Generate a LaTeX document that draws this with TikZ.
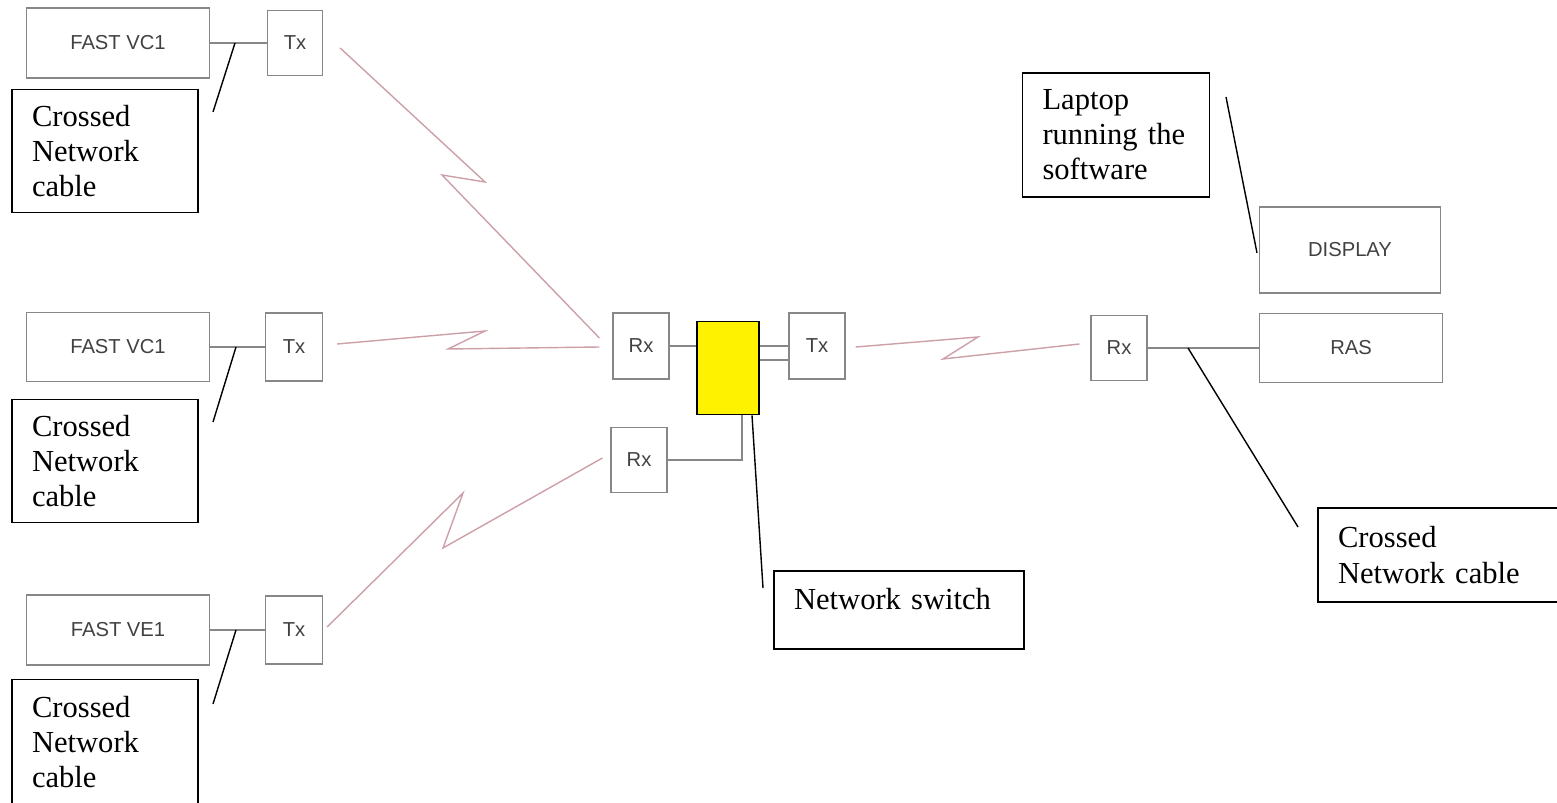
\documentclass[tikz,border=0pt]{standalone}
\usepackage{fontspec}
\setmainfont{Liberation Serif}
\newfontfamily\devfont{Liberation Sans}
\usetikzlibrary{calc}
\definecolor{boxgrey}{RGB}{135,135,135}
\definecolor{labgrey}{RGB}{65,65,65}
\definecolor{radiored}{RGB}{205,160,168}
\tikzset{
  dev/.style={draw=boxgrey,line width=0.7pt,text=labgrey,font=\devfont\fontsize{11.5}{13}\selectfont,inner sep=0pt},
  callout/.style={draw=black,line width=0.8pt,align=left,inner xsep=0.4cm,inner ysep=0pt,font=\fontsize{17.4}{20}\selectfont},
  cable/.style={draw=boxgrey,line width=0.7pt},
  radio/.style={draw=radiored,line width=0.8pt,line join=miter},
  leader/.style={draw=black,line width=0.8pt}
}
\begin{document}
\begin{tikzpicture}[x=0.02cm,y=-0.02cm]
\useasboundingbox (0,0) rectangle (1557,803);

\node[dev,minimum width=3.66cm,minimum height=1.4cm] (fvc1) at (118,43) {FAST VC1};
\node[dev,minimum width=1.1cm,minimum height=1.3cm] (tx1) at (295,43) {Tx};
\node[dev,minimum width=3.66cm,minimum height=1.38cm] (fvc2) at (118,347) {FAST VC1};
\node[dev,minimum width=1.14cm,minimum height=1.36cm] (tx2) at (294,347) {Tx};
\node[dev,minimum width=3.66cm,minimum height=1.4cm] (fve1) at (118,630) {FAST VE1};
\node[dev,minimum width=1.14cm,minimum height=1.36cm] (tx3) at (294,630) {Tx};

\node[dev,minimum width=1.12cm,minimum height=1.32cm] (rx1) at (641,346) {Rx};
\node[dev,minimum width=1.12cm,minimum height=1.3cm] (rx2) at (639,460) {Rx};
\node[draw=black,line width=1pt,fill=yellow,minimum width=1.24cm,minimum height=1.86cm,inner sep=0pt] (sw) at (728,368) {};
\node[dev,minimum width=1.12cm,minimum height=1.32cm] (txo) at (817,346) {Tx};
\node[dev,minimum width=1.12cm,minimum height=1.3cm] (rx3) at (1119,348) {Rx};
\node[dev,minimum width=3.62cm,minimum height=1.72cm] (disp) at (1350,250) {DISPLAY};
\node[dev,minimum width=3.66cm,minimum height=1.38cm] (ras) at (1351,348) {RAS};

\node[callout,text width=2.92cm,minimum height=2.46cm] (cab1) at (105,151) {Crossed\\Network\\cable};
\node[callout,text width=2.92cm,minimum height=2.46cm] (cab2) at (105,461) {Crossed\\Network\\cable};
\node[callout,text width=2.92cm,minimum height=2.5cm] (cab3) at (105,742) {Crossed\\Network\\cable};
\node[callout,text width=2.94cm,minimum height=2.48cm] (lap) at (1116,135) {Laptop\\running the\\software};
\node[callout,text width=4.2cm,minimum height=1.56cm,text depth=0.45cm] (swlab) at (899,610) {Network switch};
\node[callout,text width=4.4cm,minimum height=1.88cm] (cab4) at (1448,555) {Crossed\\Network cable};

\draw[cable] (fvc1) -- (tx1);
\draw[cable] (fvc2) -- (tx2);
\draw[cable] (fve1) -- (tx3);
\draw[cable] (rx1) -- (sw.west |- rx1.east);
\draw[cable] (sw.east |- txo.west) -- (txo.west);
\draw[cable] ($(sw.east |- txo.west)+(0,14)$) -- ($(txo.west)+(0,14)$);
\draw[cable] (rx2.east) -| ([xshift=0.28cm]sw.south);
\draw[cable] (rx3) -- (ras);

\draw[radio] ($(tx1.east)+(17,5)$) -- (485,182) -- (442,175) -- ($(rx1.west)+(-13,-8)$);
\draw[radio] ($(tx2.east)+(14,-3)$) -- (485,331) -- (448,349) -- ($(rx1.west)+(-13,1)$);
\draw[radio] ($(tx3.east)+(4,-3)$) -- (463,493) -- (443,548) -- ($(rx2.west)+(-8,-2)$);
\draw[radio] ($(txo.east)+(10,1)$) -- (978,337) -- (943,359) -- ($(rx3.west)+(-11,-4)$);

\coordinate (p1) at (235,43);
\coordinate (p2) at (236,347);
\coordinate (p3) at (236,630);
\coordinate (p4) at (1188,348);
\draw[leader] (p1) -- (213,112);
\draw[leader] (p2) -- (213,422);
\draw[leader] (p3) -- (213,704);
\draw[leader] ([xshift=0.48cm]sw.south) -- (763,588);
\draw[leader] (1226,97) -- (1257,253);
\draw[leader] (p4) -- (1298,527);
\end{tikzpicture}
\end{document}
